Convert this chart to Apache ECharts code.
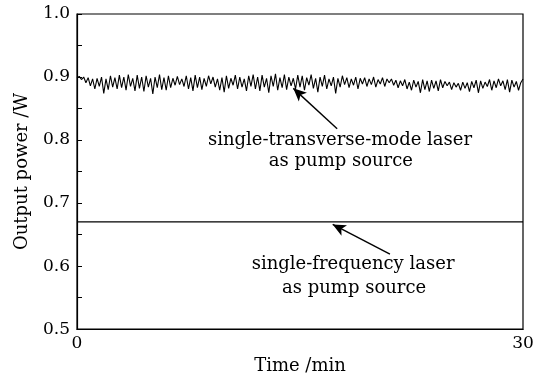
<!DOCTYPE html>
<html>
<head>
<meta charset="utf-8">
<script src="https://cdn.jsdelivr.net/npm/echarts@6/dist/echarts.min.js"></script>
<style>
  html, body { margin: 0; padding: 0; background: #fff; }
  #chart { width: 542px; height: 380px; }
</style>
</head>
<body>
<div id="chart"></div>
<script>
// Output power (W) over 30 min, pumped by a single-transverse-mode laser
const transversePower = [
  0.899,0.901,0.896,0.900,0.891,0.899,0.886,0.897,0.881,0.898,0.885,0.900,0.874,0.897,0.880,0.902,0.884,0.899,0.881,0.903,
  0.883,0.900,0.879,0.904,0.885,0.898,0.878,0.903,0.882,0.900,0.877,0.902,0.884,0.898,0.873,0.900,0.883,0.904,0.880,0.899,
  0.879,0.902,0.883,0.898,0.887,0.901,0.888,0.897,0.885,0.902,0.881,0.899,0.878,0.903,0.883,0.900,0.880,0.898,0.885,0.902,
  0.889,0.900,0.884,0.897,0.879,0.899,0.876,0.902,0.882,0.898,0.887,0.903,0.881,0.900,0.884,0.897,0.878,0.902,0.885,0.904,
  0.881,0.900,0.878,0.903,0.884,0.898,0.875,0.902,0.885,0.905,0.879,0.899,0.883,0.904,0.880,0.900,0.886,0.898,0.881,0.903,
  0.884,0.902,0.879,0.899,0.887,0.904,0.882,0.898,0.876,0.900,0.885,0.903,0.881,0.897,0.886,0.900,0.874,0.898,0.884,0.902,
  0.888,0.899,0.883,0.897,0.887,0.900,0.881,0.898,0.889,0.899,0.885,0.897,0.888,0.900,0.884,0.896,0.889,0.899,0.885,0.897,
  0.891,0.897,0.887,0.895,0.883,0.894,0.886,0.896,0.881,0.892,0.879,0.895,0.884,0.893,0.875,0.896,0.880,0.894,0.877,0.895,
  0.882,0.894,0.878,0.896,0.883,0.893,0.886,0.892,0.880,0.891,0.884,0.890,0.879,0.892,0.882,0.891,0.877,0.893,0.883,0.895,
  0.875,0.894,0.882,0.892,0.885,0.896,0.879,0.894,0.883,0.897,0.886,0.894,0.880,0.896,0.876,0.895,0.884,0.893,0.879,0.891,
  0.897
];

// Output power pumped by a single-frequency laser: steady, with a few tiny dips
const frequencyTimes = [0, 2.75, 2.8, 2.85, 9.25, 9.3, 9.35, 18.55, 18.6, 18.65, 19.55, 19.6, 19.65, 20.15, 20.2, 20.25, 25.35, 25.4, 25.45, 25.65, 25.7, 25.75, 30];
const frequencyPower = [0.670, 0.670, 0.667, 0.670, 0.670, 0.667, 0.670, 0.670, 0.667, 0.670, 0.670, 0.667, 0.670, 0.670, 0.667, 0.670, 0.670, 0.667, 0.670, 0.670, 0.667, 0.670, 0.670];

const timeRange = [0, 30];
const powerRange = [0.5, 1.0];
const xTickLabels = ['0', '30'];
const yTickLabels = ['0.5', '0.6', '0.7', '0.8', '0.9', '1.0'];

const FONT = 'DejaVu Serif';

// spread the samples evenly over the time span
const transverseData = transversePower.map((v, i) => [
  timeRange[0] + i * (timeRange[1] - timeRange[0]) / (transversePower.length - 1), v
]);
const frequencyData = frequencyTimes.map((t, i) => [t, frequencyPower[i]]);

const chart = echarts.init(document.getElementById('chart'), null, { renderer: 'canvas' });

const arrowStyle = { color: '#000', width: 1.4, type: 'solid' };

chart.setOption({
  animation: false,
  backgroundColor: '#fff',
  grid: {
    left: 77, right: 19, top: 14, bottom: 47,
    show: true, borderColor: '#000', borderWidth: 1.2, backgroundColor: 'transparent'
  },
  xAxis: {
    type: 'value',
    min: timeRange[0], max: timeRange[1], interval: 30,
    name: 'Time /min',
    nameLocation: 'middle', nameGap: 27,
    nameTextStyle: { fontFamily: FONT, fontSize: 18, color: '#000' },
    axisLine: { lineStyle: { color: '#000', width: 1.2 } },
    axisTick: { show: false },
    splitLine: { show: false },
    axisLabel: {
      margin: 6, fontFamily: FONT, fontSize: 17, color: '#000',
      formatter: v => xTickLabels[Math.round(v / 30)] ?? ''
    }
  },
  yAxis: {
    type: 'value',
    min: powerRange[0], max: powerRange[1], interval: 0.1,
    name: 'Output power /W',
    nameLocation: 'middle', nameGap: 46,
    nameTextStyle: { fontFamily: FONT, fontSize: 18, color: '#000' },
    axisLine: { show: true, lineStyle: { color: '#000', width: 1.2 } },
    axisTick: { show: true, inside: true, length: 5, lineStyle: { color: '#000' } },
    minorTick: { show: true, splitNumber: 2, length: 5, lineStyle: { color: '#000' } },
    splitLine: { show: false },
    axisLabel: {
      margin: 7, fontFamily: FONT, fontSize: 17, color: '#000',
      formatter: v => yTickLabels[Math.round((v - 0.5) * 10)] ?? ''
    }
  },
  series: [
    {
      name: 'single-transverse-mode laser',
      type: 'line',
      data: transverseData,
      showSymbol: false,
      lineStyle: { color: '#000', width: 1.1 },
      markLine: {
        silent: true,
        symbol: ['none', 'arrow'],
        symbolSize: [9, 13],
        label: { show: false },
        lineStyle: arrowStyle,
        data: [[{ coord: [17.5, 0.818] }, { coord: [14.55, 0.882] }]]
      }
    },
    {
      name: 'single-frequency laser',
      type: 'line',
      data: frequencyData,
      showSymbol: false,
      lineStyle: { color: '#000', width: 1.3 },
      markLine: {
        silent: true,
        symbol: ['none', 'arrow'],
        symbolSize: [9, 13],
        label: { show: false },
        lineStyle: arrowStyle,
        data: [[{ coord: [21.05, 0.619] }, { coord: [17.2, 0.666] }]]
      }
    }
  ]
});

// annotation captions, anchored in data coordinates
const captions = [
  { text: 'single-transverse-mode laser', at: [17.69, 0.799] },
  { text: 'as pump source', at: [17.75, 0.766] },
  { text: 'single-frequency laser', at: [18.57, 0.603] },
  { text: 'as pump source', at: [18.64, 0.564] }
];
chart.setOption({
  graphic: captions.map(c => {
    const p = chart.convertToPixel({ gridIndex: 0 }, c.at);
    return {
      type: 'text',
      x: p[0], y: p[1],
      style: {
        text: c.text, fill: '#000',
        font: '18px "' + FONT + '"',
        align: 'center', verticalAlign: 'middle'
      }
    };
  })
});
</script>
</body>
</html>
